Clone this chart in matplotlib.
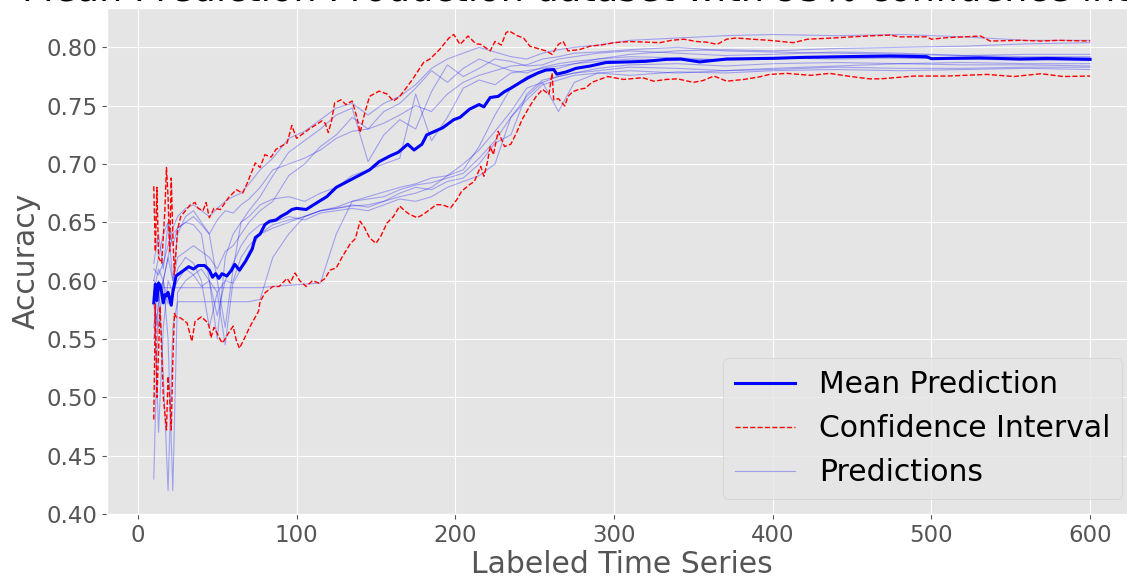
from matplotlib import pyplot as plt

# x grid shared by the individual prediction runs
pred_x = [10, 13, 16, 19, 22, 25, 30, 35, 40, 45, 50, 55, 60, 65, 70, 77, 85, 95, 105, 115,
          125, 135, 145, 155, 165, 175, 185, 195, 205, 215, 225, 235, 245, 255, 265, 275, 290,
          310, 340, 370, 400, 440, 480, 520, 560, 600]

pred_1 = [0.610, 0.605, 0.615, 0.630, 0.645, 0.655, 0.662, 0.665, 0.660, 0.655,
          0.662, 0.668, 0.672, 0.675, 0.683, 0.695, 0.705, 0.722, 0.728, 0.738,
          0.748, 0.752, 0.742, 0.752, 0.758, 0.768, 0.782, 0.790, 0.795, 0.800,
          0.796, 0.792, 0.790, 0.795, 0.798, 0.800, 0.802, 0.806, 0.808, 0.810,
          0.811, 0.810, 0.811, 0.809, 0.806, 0.806]
pred_2 = [0.600, 0.594, 0.594, 0.594, 0.594, 0.594, 0.594, 0.594, 0.594, 0.594,
          0.594, 0.594, 0.594, 0.594, 0.594, 0.594, 0.595, 0.596, 0.597, 0.598,
          0.640, 0.668, 0.672, 0.676, 0.680, 0.683, 0.688, 0.690, 0.695, 0.715,
          0.742, 0.765, 0.775, 0.780, 0.782, 0.786, 0.790, 0.794, 0.797, 0.798,
          0.797, 0.799, 0.800, 0.801, 0.803, 0.804]
pred_3 = [0.560, 0.600, 0.520, 0.420, 0.560, 0.582, 0.582, 0.582, 0.582, 0.582,
          0.582, 0.582, 0.582, 0.582, 0.582, 0.584, 0.620, 0.640, 0.655, 0.660,
          0.663, 0.668, 0.670, 0.672, 0.678, 0.682, 0.684, 0.688, 0.692, 0.705,
          0.720, 0.740, 0.758, 0.770, 0.775, 0.778, 0.782, 0.785, 0.786, 0.784,
          0.786, 0.787, 0.786, 0.785, 0.785, 0.784]
pred_4 = [0.430, 0.590, 0.600, 0.580, 0.590, 0.610, 0.620, 0.615, 0.600, 0.560,
          0.590, 0.545, 0.600, 0.620, 0.630, 0.640, 0.648, 0.652, 0.655, 0.660,
          0.662, 0.665, 0.663, 0.668, 0.675, 0.680, 0.678, 0.685, 0.688, 0.700,
          0.718, 0.725, 0.760, 0.772, 0.775, 0.778, 0.780, 0.783, 0.782, 0.780,
          0.781, 0.783, 0.782, 0.782, 0.783, 0.783]
pred_5 = [0.600, 0.620, 0.640, 0.650, 0.630, 0.645, 0.650, 0.648, 0.640, 0.600,
          0.550, 0.620, 0.640, 0.650, 0.660, 0.672, 0.690, 0.710, 0.720, 0.730,
          0.742, 0.748, 0.702, 0.725, 0.738, 0.730, 0.762, 0.785, 0.775, 0.782,
          0.790, 0.788, 0.784, 0.785, 0.790, 0.792, 0.795, 0.797, 0.795, 0.793,
          0.794, 0.796, 0.795, 0.793, 0.792, 0.792]
pred_6 = [0.590, 0.470, 0.560, 0.600, 0.590, 0.600, 0.610, 0.605, 0.595, 0.600,
          0.590, 0.600, 0.598, 0.610, 0.625, 0.640, 0.645, 0.650, 0.655, 0.660,
          0.662, 0.664, 0.665, 0.668, 0.672, 0.675, 0.680, 0.690, 0.700, 0.712,
          0.728, 0.745, 0.765, 0.770, 0.745, 0.770, 0.778, 0.780, 0.778, 0.780,
          0.782, 0.784, 0.786, 0.787, 0.786, 0.786]
pred_7 = [0.615, 0.640, 0.610, 0.650, 0.600, 0.640, 0.655, 0.660, 0.650, 0.640,
          0.600, 0.560, 0.610, 0.650, 0.655, 0.665, 0.670, 0.672, 0.668, 0.675,
          0.680, 0.690, 0.695, 0.700, 0.705, 0.760, 0.720, 0.740, 0.765, 0.772,
          0.768, 0.778, 0.780, 0.782, 0.784, 0.786, 0.788, 0.790, 0.789, 0.790,
          0.791, 0.790, 0.791, 0.790, 0.789, 0.789]
pred_8 = [0.590, 0.610, 0.600, 0.620, 0.640, 0.645, 0.650, 0.655, 0.648, 0.640,
          0.652, 0.660, 0.658, 0.665, 0.670, 0.680, 0.695, 0.700, 0.705, 0.712,
          0.722, 0.728, 0.730, 0.735, 0.742, 0.750, 0.745, 0.760, 0.770, 0.776,
          0.780, 0.784, 0.785, 0.790, 0.792, 0.795, 0.796, 0.798, 0.800, 0.797,
          0.796, 0.795, 0.794, 0.793, 0.794, 0.794]
pred_9 = [0.580, 0.560, 0.600, 0.550, 0.420, 0.590, 0.600, 0.605, 0.610, 0.600,
          0.570, 0.600, 0.615, 0.630, 0.640, 0.648, 0.650, 0.655, 0.652, 0.658,
          0.660, 0.662, 0.660, 0.665, 0.670, 0.668, 0.672, 0.680, 0.685, 0.690,
          0.700, 0.740, 0.755, 0.768, 0.772, 0.776, 0.778, 0.776, 0.779, 0.778,
          0.780, 0.781, 0.780, 0.781, 0.782, 0.781]
pred_10 = [0.550, 0.580, 0.600, 0.620, 0.600, 0.620, 0.625, 0.630, 0.625, 0.620,
           0.610, 0.625, 0.630, 0.640, 0.650, 0.660, 0.668, 0.690, 0.700, 0.715,
           0.725, 0.740, 0.730, 0.745, 0.752, 0.765, 0.780, 0.770, 0.782, 0.790,
           0.785, 0.780, 0.778, 0.783, 0.786, 0.788, 0.790, 0.792, 0.791, 0.789,
           0.790, 0.792, 0.791, 0.790, 0.791, 0.791]
predictions = [pred_1, pred_2, pred_3, pred_4, pred_5, pred_6, pred_7, pred_8, pred_9, pred_10]

mean_x = [10, 11, 12, 13, 14, 15, 16, 17, 18, 19, 21, 22, 24, 28, 32, 35, 38, 42, 45, 47,
          49, 51, 53, 56, 59, 61, 64, 68, 72, 74, 77, 80, 83, 87, 90, 94, 97, 100, 106, 113,
          119, 125, 132, 139, 146, 152, 159, 164, 170, 174, 179, 182, 187, 192, 199, 203, 209,
          215, 218, 222, 227, 231, 235, 241, 246, 252, 257, 262, 264, 270, 276, 285, 295, 306,
          320, 333, 342, 354, 371, 400, 419, 444, 474, 497, 500, 530, 556, 573, 600]
mean_y = [0.581, 0.597, 0.583, 0.598, 0.596, 0.590, 0.581, 0.588, 0.587, 0.590,
          0.579, 0.590, 0.604, 0.608, 0.612, 0.610, 0.613, 0.613, 0.609, 0.603,
          0.606, 0.602, 0.606, 0.604, 0.609, 0.614, 0.609, 0.617, 0.627, 0.637,
          0.640, 0.648, 0.651, 0.652, 0.655, 0.658, 0.661, 0.662, 0.661, 0.667,
          0.672, 0.680, 0.685, 0.690, 0.695, 0.702, 0.707, 0.710, 0.717, 0.712,
          0.717, 0.725, 0.728, 0.731, 0.738, 0.740, 0.747, 0.751, 0.749, 0.757,
          0.758, 0.762, 0.765, 0.770, 0.774, 0.778, 0.7805, 0.781, 0.777, 0.779,
          0.782, 0.784, 0.787, 0.7874, 0.788, 0.7897, 0.790, 0.7875, 0.790, 0.7906,
          0.7914, 0.792, 0.7926, 0.792, 0.7903, 0.791, 0.790, 0.7905, 0.7897]

upper_x = [10, 11, 12, 13, 15, 17, 18, 19, 20, 21, 22, 23, 25, 27, 30, 33, 36, 38, 41, 43,
           45, 48, 52, 57, 62, 66, 69, 74, 77, 80, 84, 87, 90, 94, 97, 100, 102, 108, 116, 118,
           120, 122, 124, 128, 131, 135, 138, 140, 143, 146, 152, 157, 161, 165, 169, 173, 180,
           184, 190, 196, 199, 203, 208, 213, 216, 222, 225, 229, 232, 234, 239, 243, 247, 252,
           257, 261, 265, 268, 271, 278, 285, 292, 300, 310, 320, 329, 336, 344, 352, 358, 365,
           371, 377, 387, 398, 413, 422, 438, 450, 464, 474, 480, 497, 500, 510, 531, 537, 556,
           569, 580, 600]
upper_y = [0.681, 0.625, 0.680, 0.620, 0.615, 0.660, 0.697, 0.672, 0.625, 0.688,
           0.640, 0.605, 0.644, 0.655, 0.660, 0.665, 0.667, 0.662, 0.660, 0.667,
           0.654, 0.662, 0.661, 0.671, 0.678, 0.675, 0.684, 0.701, 0.697, 0.708,
           0.706, 0.7125, 0.715, 0.718, 0.733, 0.722, 0.724, 0.730, 0.737, 0.735,
           0.727, 0.737, 0.7525, 0.755, 0.751, 0.754, 0.740, 0.727, 0.744, 0.758,
           0.7625, 0.760, 0.754, 0.758, 0.765, 0.7725, 0.787, 0.790, 0.798, 0.808,
           0.811, 0.8025, 0.8097, 0.803, 0.8026, 0.797, 0.805, 0.802, 0.8126, 0.814,
           0.810, 0.808, 0.801, 0.799, 0.797, 0.794, 0.8026, 0.805, 0.797, 0.798,
           0.801, 0.802, 0.804, 0.805, 0.8045, 0.804, 0.806, 0.807, 0.805, 0.8045,
           0.8026, 0.807, 0.808, 0.807, 0.806, 0.804, 0.807, 0.808, 0.809, 0.810,
           0.8105, 0.809, 0.809, 0.807, 0.8083, 0.8097, 0.8054, 0.806, 0.8054, 0.806,
           0.8054]

lower_x = [10, 11, 12, 14, 16, 18, 19, 20, 21, 22, 23, 24, 27, 31, 34, 36, 40, 44, 45, 46,
           48, 51, 53, 55, 57, 60, 62, 64, 68, 70, 73, 76, 77, 80, 85, 89, 94, 96, 99, 102,
           106, 110, 114, 118, 121, 125, 129, 134, 137, 140, 143, 146, 150, 153, 157, 161, 165,
           168, 171, 176, 180, 184, 188, 192, 197, 201, 204, 209, 212, 216, 218, 220, 222, 224,
           227, 231, 235, 239, 242, 247, 251, 255, 259, 261, 262, 265, 269, 271, 274, 278, 282,
           286, 291, 296, 306, 318, 325, 333, 340, 350, 356, 363, 371, 382, 392, 398, 409, 424,
           436, 447, 461, 468, 489, 510, 535, 552, 569, 583, 600]
lower_y = [0.481, 0.580, 0.500, 0.578, 0.500, 0.472, 0.518, 0.500, 0.472, 0.530,
           0.572, 0.569, 0.568, 0.5637, 0.548, 0.565, 0.569, 0.564, 0.560, 0.551,
           0.560, 0.552, 0.5465, 0.550, 0.555, 0.561, 0.549, 0.542, 0.553, 0.559,
           0.5665, 0.5737, 0.582, 0.5895, 0.595, 0.595, 0.602, 0.598, 0.6066, 0.600,
           0.595, 0.600, 0.598, 0.602, 0.609, 0.611, 0.621, 0.632, 0.636, 0.651,
           0.645, 0.6367, 0.632, 0.638, 0.6495, 0.655, 0.664, 0.660, 0.657, 0.654,
           0.657, 0.661, 0.6652, 0.665, 0.6624, 0.6695, 0.6767, 0.6824, 0.685, 0.698,
           0.6895, 0.700, 0.715, 0.708, 0.728, 0.715, 0.717, 0.728, 0.738, 0.7497,
           0.758, 0.764, 0.7597, 0.778, 0.755, 0.756, 0.7497, 0.758, 0.762, 0.764,
           0.765, 0.770, 0.7725, 0.775, 0.7725, 0.774, 0.771, 0.7725, 0.773, 0.770,
           0.7715, 0.7754, 0.771, 0.7725, 0.7748, 0.7768, 0.7777, 0.776, 0.7777, 0.7754,
           0.773, 0.773, 0.7754, 0.7754, 0.7768, 0.775, 0.7774, 0.775, 0.7754]

plt.style.use('ggplot')

fig = plt.figure(figsize=(11.27, 5.82), dpi=100)
ax = fig.add_axes([0.0949, 0.1168, 0.9139, 0.8694])

for k, p in enumerate(predictions):
    ax.plot(pred_x, p, color='blue', linewidth=0.8, alpha=0.3,
            label='Predictions' if k == 0 else None)
ax.plot(mean_x, mean_y, color='blue', linewidth=2.2, label='Mean Prediction')
ax.plot(upper_x, upper_y, color='red', linestyle='--', linewidth=1, label='Confidence Interval')
ax.plot(lower_x, lower_y, color='red', linestyle='--', linewidth=1)

ax.set_xlim(-19.5, 629.5)
ax.set_ylim(0.4003, 0.8337)
ax.set_yticks([0.40, 0.45, 0.50, 0.55, 0.60, 0.65, 0.70, 0.75, 0.80])
ax.tick_params(axis='both', labelsize=16.5)
ax.set_xlabel('Labeled Time Series', fontsize=21.5, labelpad=2)
ax.set_ylabel('Accuracy', fontsize=21.5)
# the title sits mostly above the top edge of the saved picture
ax.set_title('Mean Prediction Production dataset with 95% confidence interval', fontsize=26.5, pad=4.5)

handles, labels = ax.get_legend_handles_labels()
order = [labels.index('Mean Prediction'), labels.index('Confidence Interval'), labels.index('Predictions')]
ax.legend([handles[i] for i in order], [labels[i] for i in order], loc='lower right', fontsize=21.5)

plt.savefig('out.png', dpi=100)
